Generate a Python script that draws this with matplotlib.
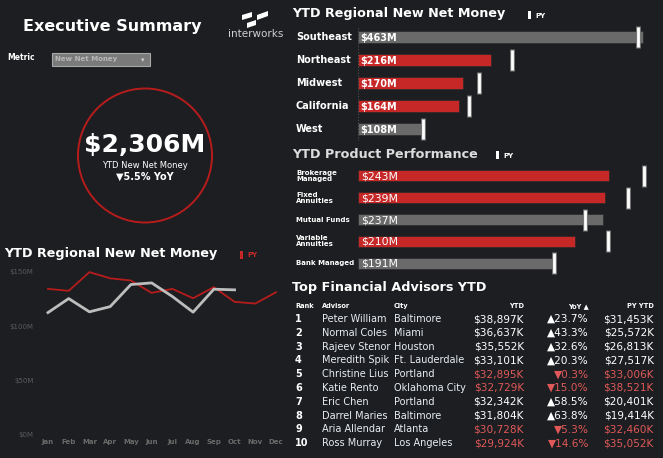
import numpy as np
import matplotlib
matplotlib.use("Agg")
import matplotlib.pyplot as plt
from matplotlib.patches import Circle, Rectangle, Polygon

# ---- data ----
regions = ["Southeast", "Northeast", "Midwest", "California", "West"]
region_ytd = [463, 216, 170, 164, 108]
region_py = [455, 250, 197, 180, 106]

products = ["Brokerage\nManaged", "Fixed\nAnnuities", "Mutual Funds", "Variable\nAnnuities", "Bank Managed"]
product_ytd = [243, 239, 237, 210, 191]
product_py = [277, 261, 220, 242, 190]

months = ["Jan", "Feb", "Mar", "Apr", "May", "Jun", "Jul", "Aug", "Sep", "Oct", "Nov", "Dec"]
monthly_cy = [112.5, 125.4, 113.2, 118.0, 138.3, 139.8, 127.3, 112.9, 134.0, 133.4]
monthly_py = [134.3, 132.5, 149.7, 144.0, 142.0, 130.6, 134.3, 125.7, 135.9, 122.4, 120.8, 131.2]

ranks = [1, 2, 3, 4, 5, 6, 7, 8, 9, 10]
advisors = ["Peter William", "Normal Coles", "Rajeev Stenor", "Meredith Spik", "Christine Lius",
            "Katie Rento", "Eric Chen", "Darrel Maries", "Aria Allendar", "Ross Murray"]
cities = ["Baltimore", "Miami", "Houston", "Ft. Lauderdale", "Portland",
          "Oklahoma City", "Portland", "Baltimore", "Atlanta", "Los Angeles"]
ytd_k = [38897, 36637, 35552, 33101, 32895, 32729, 32342, 31804, 30728, 29924]
yoy_pct = [23.7, 43.3, 32.6, 20.3, -0.3, -15.0, 58.5, 63.8, -5.3, -14.6]
py_ytd_k = [31453, 25572, 26813, 27517, 33006, 38521, 20401, 19414, 32460, 35052]

total_ytd = "$2,306M"
total_yoy = -5.5

BG = "#1c1e21"
RED = "#c62828"
GRAY = "#6a6a6a"
NEG = "#e05858"

W, H = 663, 458
fig = plt.figure(figsize=(W / 100, H / 100), dpi=100, facecolor=BG)


def add_ax(l, t, r, b):
    a = fig.add_axes([l / W, 1 - b / H, (r - l) / W, (b - t) / H])
    a.set_facecolor("none")
    return a


# pixel canvas for decoration and text
cv = fig.add_axes([0, 0, 1, 1])
cv.set_xlim(0, W)
cv.set_ylim(H, 0)
cv.axis("off")
cv.set_zorder(0)

cv.text(23, 26, "Executive Summary", color="white", fontsize=11.5, fontweight="bold", va="center")
for pts in ([(242, 15), (252, 12), (252, 17), (242, 20)],
            [(257, 15), (268, 11), (268, 16), (257, 20)],
            [(247, 23), (256, 20), (256, 25), (247, 28)]):
    cv.add_patch(Polygon(pts, closed=True, color="white", lw=0))
cv.text(228, 34, "interworks", color="#d0d0d0", fontsize=7.5, va="center")

cv.text(7, 58, "Metric", color="white", fontsize=5.5, fontweight="bold", va="center")
cv.add_patch(Rectangle((52, 53), 98, 13, facecolor="#7a7a7a", edgecolor="#a8a8a8", lw=0.8))
cv.text(55, 59.5, "New Net Money", color="#b8b8b8", fontsize=5, fontweight="bold", va="center")
cv.text(143, 60, "▾", color="#cfcfcf", fontsize=5, ha="center", va="center")

cv.add_patch(Circle((145, 155.5), 67, fill=False, edgecolor="#b71c1c", lw=1.4))
cv.text(145, 145, total_ytd, color="white", fontsize=18, fontweight="heavy", ha="center", va="center")
cv.text(145, 165, "YTD New Net Money", color="white", fontsize=6, ha="center", va="center")
arrow = "▼" if total_yoy < 0 else "▲"
cv.text(145, 177, f"{arrow}{abs(total_yoy)}% YoY", color="white", fontsize=7, fontweight="bold",
        ha="center", va="center")

# ---- regional bars ----
cv.text(292, 14, "YTD Regional New Net Money", color="white", fontsize=9.2, fontweight="bold", va="center")
cv.add_patch(Rectangle((528, 11), 2.5, 8, color="white", lw=0))
cv.text(535, 15.5, "PY", color="white", fontsize=5, fontweight="bold", va="center")

scale = 0.6156
ax1 = add_ax(358, 25.5, 655, 140.5)
y = np.arange(len(regions))
cols = [GRAY if a >= p else RED for a, p in zip(region_ytd, region_py)]
ax1.barh(y, region_ytd, height=0.5, color=cols, edgecolor="#2a2a2a", lw=0.5)
ax1.plot(region_py, y, ls="none", marker="|", ms=16, mew=3.5, color="#777777")
ax1.plot(region_py, y, ls="none", marker="|", ms=15, mew=2, color="white")
ax1.axvline(0, color="#555555", ls=":", lw=0.8)
for i, (lab, v) in enumerate(zip(regions, region_ytd)):
    ax1.text(-0.209, i, lab, transform=ax1.get_yaxis_transform(), color="white",
             fontsize=7, fontweight="bold", va="center", ha="left")
    ax1.annotate(f"${v}M", (0, i), xytext=(1.5, -0.5), textcoords="offset points",
                 color="white", fontsize=7, fontweight="bold", va="center")
ax1.set_xlim(0, 297 / scale)
ax1.set_ylim(4.5, -0.5)
ax1.axis("off")

# ---- product bars ----
cv.text(292, 155, "YTD Product Performance", color="#dcdcdc", fontsize=9.2, fontweight="bold", va="center")
cv.add_patch(Rectangle((496, 151), 2.5, 8, color="white", lw=0))
cv.text(503, 156, "PY", color="white", fontsize=5, fontweight="bold", va="center")

pscale = 1.033
ax2 = add_ax(358, 165, 655, 274)
y = np.arange(len(products))
cols = [GRAY if a >= p else RED for a, p in zip(product_ytd, product_py)]
ax2.barh(y, product_ytd, height=0.5, color=cols, edgecolor="#2a2a2a", lw=0.5)
ax2.plot(product_py, y, ls="none", marker="|", ms=16, mew=3.5, color="#777777")
ax2.plot(product_py, y, ls="none", marker="|", ms=15, mew=2, color="white")
for i, (lab, v) in enumerate(zip(products, product_ytd)):
    ax2.text(-0.209, i, lab, transform=ax2.get_yaxis_transform(), color="white",
             fontsize=5, fontweight="bold", va="center", ha="left", linespacing=1.05)
    ax2.annotate(f"${v}M", (0, i), xytext=(2, -0.5), textcoords="offset points",
                 color="white", fontsize=7.8, va="center")
ax2.set_xlim(0, 297 / pscale)
ax2.set_ylim(4.5, -0.5)
ax2.axis("off")

# ---- monthly lines ----
cv.text(4, 253, "YTD Regional New Net Money", color="white", fontsize=9.2, fontweight="bold", va="center")
cv.add_patch(Rectangle((240, 251), 2.5, 8, color="#c62828", lw=0))
cv.text(247, 255, "PY", color="#c62828", fontsize=5, fontweight="bold", va="center")

ax3 = add_ax(37.6, 262, 286.4, 435)
x = np.arange(len(months))
ax3.plot(x, monthly_py, color="#b71c1c", lw=1.3)
ax3.plot(x[:len(monthly_cy)], monthly_cy, color="#bdbdbd", lw=2)
ax3.axhline(0, color="#444444", ls=":", lw=0.8)
ax3.set_xlim(-0.5, 11.5)
ax3.set_ylim(0, 159)
ax3.set_xticks(x)
ax3.set_xticklabels(months, fontsize=5, fontweight="bold", color="#6a6a6a")
ax3.set_yticks([0, 50, 100, 150])
ax3.set_yticklabels(["$0M", "$50M", "$100M", "$150M"], fontsize=5, color="#5a5a5a")
ax3.tick_params(length=0, pad=3)
for s in ax3.spines.values():
    s.set_visible(False)

# ---- advisors table ----
cv.text(292, 288, "Top Financial Advisors YTD", color="white", fontsize=9.2, fontweight="bold", va="center")
hy = 306
hdr = dict(color="white", fontsize=4.8, fontweight="bold", va="center")
cv.text(295, hy, "Rank", ha="left", **hdr)
cv.text(322, hy, "Advisor", ha="left", **hdr)
cv.text(394, hy, "City", ha="left", **hdr)
cv.text(524, hy, "YTD", ha="right", **hdr)
cv.text(589, hy, "YoY ▲", ha="right", **hdr)
cv.text(654, hy, "PY YTD", ha="right", **hdr)
for i in range(len(ranks)):
    ry = 319 + i * 13.8
    neg = yoy_pct[i] < 0
    c = NEG if neg else "white"
    cv.text(295, ry, str(ranks[i]), color="white", fontsize=7, fontweight="bold", va="center")
    cv.text(322, ry, advisors[i], color="#e8eef5", fontsize=7, va="center")
    cv.text(394, ry, cities[i], color="#e8eef5", fontsize=7, va="center")
    cv.text(524, ry, f"${ytd_k[i]:,}K", color=c, fontsize=7.6, ha="right", va="center")
    arr = "▼" if neg else "▲"
    cv.text(589, ry, f"{arr}{abs(yoy_pct[i]):.1f}%", color=c, fontsize=7.6, ha="right", va="center")
    cv.text(654, ry, f"${py_ytd_k[i]:,}K", color=c, fontsize=7.6, ha="right", va="center")

fig.savefig("out.png", dpi=100, facecolor=BG)
